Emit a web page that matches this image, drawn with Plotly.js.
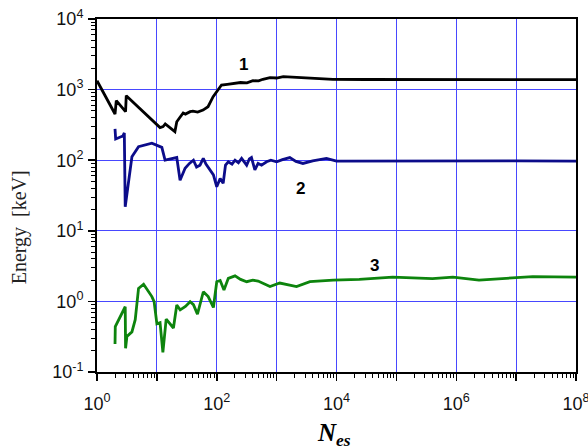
<!DOCTYPE html>
<html>
<head>
<meta charset="utf-8">
<script src="https://cdn.plot.ly/plotly-3.0.1.min.js"></script>
<style>html,body{margin:0;padding:0;background:#fff;}#chart{width:588px;height:446px;}</style>
</head>
<body>
<div id="chart"></div>
<script>
// Series 1 (black)
const x1 = [1, 2, 2.1, 3, 3.08, 11.3, 12.7, 13.8, 20, 21.5, 24, 27.5, 30, 35.9, 40, 48, 59, 71.5, 87, 120, 150, 188, 250, 320, 402, 500, 590, 775, 1000, 1290, 2000, 3160, 5000, 8700, 3e4, 1e5, 1e6, 1e7, 1e8];
const y1 = [1337, 451, 697, 486, 820, 290, 299, 326, 254, 351, 400, 467, 450, 487, 495, 480, 513, 573, 795, 1161, 1190, 1228, 1260, 1245, 1337, 1330, 1400, 1476, 1460, 1525, 1500, 1490, 1440, 1400, 1390, 1385, 1380, 1375, 1380];
// Series 2 (blue)
const x2 = [2, 2.05, 2.7, 2.86, 2.96, 3.83, 4.94, 6.8, 8.25, 12.1, 13.7, 21.5, 24.4, 29.6, 35, 40.8, 46, 52.5, 59.6, 66, 77, 88, 100, 114, 128, 140, 156, 180, 202, 230, 260, 290, 316, 350, 380, 433, 490, 560, 680, 800, 1000, 1250, 1660, 2100, 2750, 4000, 6800, 1e4, 1e5, 1e6, 1e7, 1e8];
const y2 = [277, 200, 220, 243, 21.9, 112, 155, 164, 174, 152, 100, 109, 52, 77, 90, 100, 80, 85, 106, 88, 73, 62, 42, 55, 47, 85, 95, 88, 100, 92, 106, 95, 85, 104, 109, 73, 90, 85, 95, 100, 95, 102, 109, 96, 90, 98, 106, 97, 98, 97, 98, 97];
// Series 3 (green)
const x3 = [2, 2.02, 2.96, 3.0, 3.16, 3.83, 4.35, 4.94, 6, 8.25, 9, 10, 11.3, 12.6, 14.3, 18.9, 21.5, 24.5, 30, 35.9, 40.8, 47.6, 59.7, 72, 87.9, 100, 114, 132, 156, 202, 250, 316, 400, 490, 775, 1130, 2150, 3600, 8800, 24000, 87000, 4e5, 8.8e5, 2.4e6, 1.9e7, 1e8];
const y3 = [0.249, 0.44, 0.84, 0.217, 0.32, 0.37, 0.55, 1.53, 1.75, 1.17, 0.99, 0.48, 0.50, 0.19, 0.56, 0.42, 0.89, 0.76, 0.85, 0.99, 0.9, 0.66, 1.37, 1.17, 0.82, 1.9, 1.98, 1.45, 2.12, 2.3, 2.05, 1.9, 2.0, 1.94, 1.62, 1.82, 1.62, 1.9, 2.0, 2.05, 2.2, 2.1, 2.2, 2.0, 2.25, 2.2];

const seriesLabels = ['1', '2', '3'];
const xTickVals = [1, 10, 100, 1e3, 1e4, 1e5, 1e6, 1e7, 1e8];
const xTickText = ['10<sup>0</sup>', '', '10<sup>2</sup>', '', '10<sup>4</sup>', '', '10<sup>6</sup>', '', '10<sup>8</sup>'];
const yTickVals = [0.1, 1, 10, 100, 1e3, 1e4];
const yTickText = ['10<sup>-1</sup>', '10<sup>0</sup>', '10<sup>1</sup>', '10<sup>2</sup>', '10<sup>3</sup>', '10<sup>4</sup>'];

function minorVals(ticks) {
  const out = [];
  for (let i = 0; i < ticks.length - 1; i++) {
    for (let k = 2; k <= 9; k++) out.push(ticks[i] * k);
  }
  return out;
}

const lineW = 2.8;
const traces = [
  {x: x1, y: y1, mode: 'lines', line: {color: '#000000', width: lineW}, hoverinfo: 'skip'},
  {x: x2, y: y2, mode: 'lines', line: {color: '#0c0c8a', width: lineW}, hoverinfo: 'skip'},
  {x: x3, y: y3, mode: 'lines', line: {color: '#0d840d', width: lineW}, hoverinfo: 'skip'}
];

const gridColor = '#4848ff';
const labFont = {family: 'Liberation Sans, Arial, sans-serif', size: 17, color: '#000'};
const tickFont = {family: 'Liberation Sans, Arial, sans-serif', size: 18, color: '#111'};

function lab(text, x, y, font, extra) {
  return Object.assign({text: text, xref: 'paper', yref: 'paper', x: x, y: y, xanchor: 'center', yanchor: 'middle', showarrow: false, font: font}, extra || {});
}

const layout = {
  width: 588, height: 446,
  margin: {l: 96.5, r: 11.5, t: 19, b: 74},
  paper_bgcolor: '#fff', plot_bgcolor: '#fff',
  showlegend: false,
  xaxis: {
    type: 'log', range: [0, 8],
    tickmode: 'array', tickvals: xTickVals, ticktext: xTickText,
    ticks: 'outside', ticklen: 7, tickwidth: 1.5, tickcolor: '#000',
    ticklabeloverflow: 'allow', ticklabelstandoff: 7,
    showgrid: true, gridcolor: gridColor, gridwidth: 1,
    showline: true, linecolor: '#000', linewidth: 2, mirror: true,
    zeroline: false, tickfont: tickFont,
    minor: {tickmode: 'array', tickvals: minorVals(xTickVals), ticks: 'outside', ticklen: 4, tickwidth: 1, tickcolor: '#000', showgrid: false}
  },
  yaxis: {
    type: 'log', range: [-1, 4],
    tickmode: 'array', tickvals: yTickVals, ticktext: yTickText,
    ticks: 'outside', ticklen: 7, tickwidth: 1.5, tickcolor: '#000',
    ticklabeloverflow: 'allow', ticklabelstandoff: 1,
    showgrid: true, gridcolor: gridColor, gridwidth: 1,
    showline: true, linecolor: '#000', linewidth: 2, mirror: true,
    zeroline: false, tickfont: tickFont,
    minor: {tickmode: 'array', tickvals: minorVals(yTickVals), ticks: 'outside', ticklen: 4, tickwidth: 1, tickcolor: '#000', showgrid: false}
  },
  annotations: [
    lab('<b>' + seriesLabels[0] + '</b>', 0.305, 0.870, labFont),
    lab('<b>' + seriesLabels[1] + '</b>', 0.425, 0.521, labFont),
    lab('<b>' + seriesLabels[2] + '</b>', 0.580, 0.303, labFont),
    lab('Energy  [keV]', -0.160, 0.411, {family: 'Liberation Serif, Times New Roman, serif', size: 20, color: '#222'}, {textangle: -90}),
    lab('<b><i>N<sub>es</sub></i></b>', 0.495, -0.178, {family: 'Liberation Serif, Times New Roman, serif', size: 25, color: '#000'})
  ]
};

Plotly.newPlot('chart', traces, layout, {staticPlot: true, displayModeBar: false});
</script>
</body>
</html>
